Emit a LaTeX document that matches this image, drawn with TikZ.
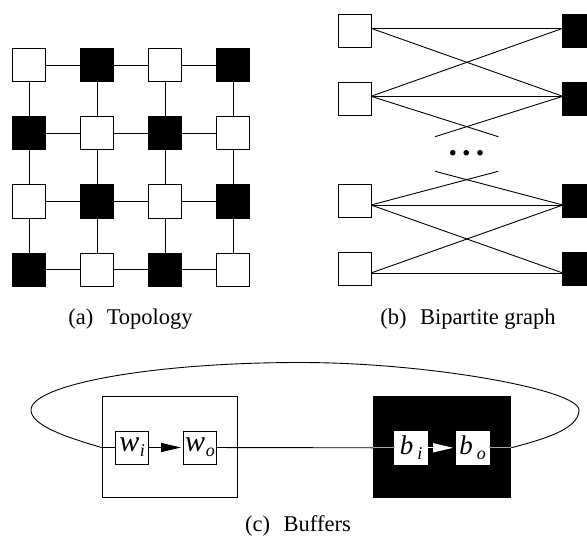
\documentclass[tikz,border=0pt]{standalone}
\usepackage{fontspec}
\setmainfont{Liberation Serif}
\usetikzlibrary{arrows.meta}
% #1 letter, #2 subscript, #3 gap, #4 letter size
\newcommand\boxlab[4]{{\fontsize{#4}{#4}\selectfont\itshape #1}\hspace{#3}\raisebox{-5bp}{\fontsize{18bp}{18bp}\selectfont\itshape #2}}
\begin{document}
\begin{tikzpicture}[x=1bp,y=-1bp,
  sq0/.style={draw=black,fill=white,line width=1bp,minimum size=33bp,inner sep=0pt,outer sep=0pt},
  sq1/.style={draw=black,fill=black,line width=1bp,minimum size=33bp,inner sep=0pt,outer sep=0pt},
  link/.style={line width=0.9bp},
  tip/.style={-{Triangle[length=20bp,width=9bp]}},
  captxt/.style={font=\fontsize{22.5bp}{27bp}\selectfont,anchor=base,inner sep=0pt},
]
\clip (0,0) rectangle (587,539);
\fill[white] (0,0) rectangle (587,539);

% (a) 4x4 mesh with alternating colours
\foreach \r in {1,...,4}{
  \foreach \c in {1,...,4}{
    \pgfmathtruncatemacro\parity{mod(\r+\c,2)}
    \node[sq\parity] (t\r\c) at ({29+68*(\c-1)},{65.5+68*(\r-1)}) {};
  }
}
\foreach \r in {1,...,4}{
  \foreach \c/\n in {1/2,2/3,3/4}{
    \draw[link] (t\r\c) -- (t\r\n);
    \draw[link] (t\c\r) -- (t\n\r);
  }
}
\node[captxt] (capa) at (130.5,324) {(a)\hspace{0.6em}Topology};

% (b) bipartite graph
\foreach \i/\y in {1/31.3,2/99.3,3/201.3,4/269.3}{
  \node[sq0] (l\i) at (354.5,\y) {};
  \node[sq1] (r\i) at (579.3,\y) {};
}
\foreach \i in {1,2}{
  \coordinate (lp\i) at ([yshift=3bp]l\i.east);
  \coordinate (rp\i) at ([yshift=3bp]r\i.west);
}
\foreach \i in {3,4}{
  \coordinate (lp\i) at ([yshift=-3.7bp]l\i.east);
  \coordinate (rp\i) at ([yshift=-3.7bp]r\i.west);
}
\coordinate (c1) at (498.3,136.7);
\coordinate (c2) at (435,136.7);
\coordinate (c3) at (498.3,171.3);
\coordinate (c4) at (435,171.3);
\draw[link] (lp1) -- (rp1);
\draw[link] (lp1) -- (rp2);
\draw[link] (lp2) -- (rp1);
\draw[link] (lp2) -- (rp2);
\draw[link] (lp2) -- (c1);
\draw[link] (rp2) -- (c2);
\draw[link] (lp3) -- (c3);
\draw[link] (rp3) -- (c4);
\draw[link] (lp3) -- (rp3);
\draw[link] (lp3) -- (rp4);
\draw[link] (lp4) -- (rp3);
\draw[link] (lp4) -- (rp4);
\node[anchor=base,inner sep=0pt,font=\fontsize{34bp}{34bp}\selectfont\bfseries] (dots) at (466.5,156) {.\hspace{0.15em}.\hspace{0.15em}.};
\node[captxt] (capb) at (468,324) {(b)\hspace{0.6em}Bipartite graph};

% (c) buffers
\node[draw=black,line width=1bp,minimum width=135bp,minimum height=101bp,inner sep=0pt] (wbox) at (169.7,447) {};
\node[fill=black,minimum width=137.7bp,minimum height=102bp,inner sep=0pt] (bbox) at (442.2,447) {};
\node[sq0] (wi) at (132.2,447.5) {\boxlab{w}{i}{0.5bp}{30bp}};
\node[sq0] (wo) at (200,447.5) {\boxlab{w}{o}{0.5bp}{30bp}};
\node[sq0,draw=white] (bi) at (411.2,447.8) {\boxlab{b}{i}{4bp}{27bp}};
\node[sq0,draw=white] (bo) at (472.7,447.8) {\boxlab{b}{o}{4bp}{27bp}};
\coordinate (win) at (wbox.west |- wi.west);
\coordinate (bin) at (bbox.west |- bi.west);
\coordinate (bout) at (bbox.east |- bo.east);
\coordinate (k1) at (31,410);
\coordinate (k2) at (300,362.5);
\coordinate (k3) at (579,410);
\draw[link,tip,shorten >=2.5bp] (wi) -- (wo);
\draw[link,white,tip,shorten >=3bp] (bi) -- (bo);
\draw[link] (wo) -- (bin);
\draw[link,gray!70] (bin) -- (bi.west);
\draw[link] (win) -- (wi.west);
\draw[link,gray!70] (bo.east) -- (bout);
\draw[link] (win) .. controls (65,437) and (31,425) .. (k1)
  .. controls (31,385) and (150,362.5) .. (k2)
  .. controls (430,362.5) and (579,390) .. (k3)
  .. controls (579,430) and (540,440) .. (bout);
\node[captxt] (capc) at (298,531) {(c)\hspace{0.6em}Buffers};
\end{tikzpicture}
\end{document}
